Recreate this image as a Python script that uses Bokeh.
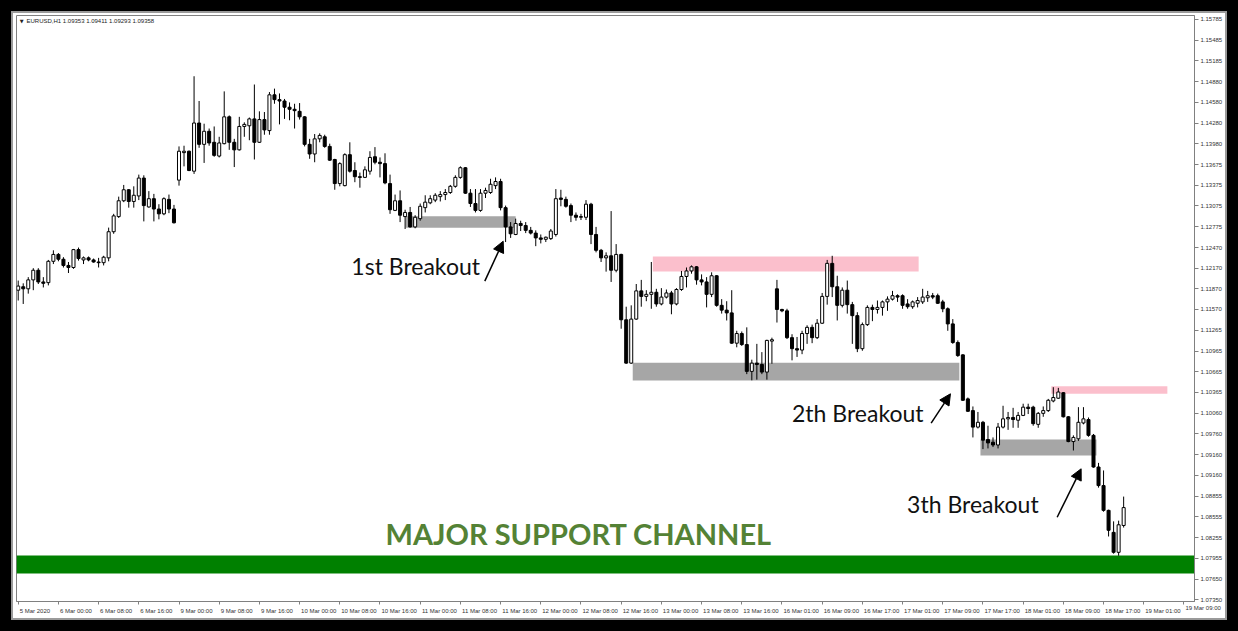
from bokeh.plotting import figure
from bokeh.models import FixedTicker, Label, Arrow, NormalHead, BoxAnnotation, ColumnDataSource, Range1d
from bokeh.embed import file_html
from bokeh.resources import INLINE

# ---------------- data (EURUSD H1) ----------------
opens = [1.1185, 1.1190, 1.1187, 1.1200, 1.1214, 1.1197, 1.1196, 1.1227, 1.1237, 1.1230,
         1.1221, 1.1218, 1.1244, 1.1229, 1.1232, 1.1229, 1.1226, 1.1225, 1.1232, 1.1270,
         1.1292, 1.1315, 1.1331, 1.1314, 1.1322, 1.1348, 1.1306, 1.1318, 1.1303, 1.1296,
         1.1317, 1.1303, 1.1345, 1.1385, 1.1387, 1.1358, 1.1428, 1.1397, 1.1416, 1.1400,
         1.1380, 1.1398, 1.1437, 1.1400, 1.1389, 1.1423, 1.1424, 1.1434, 1.1400, 1.1433,
         1.1417, 1.1469, 1.1462, 1.1460, 1.1451, 1.1448, 1.1445, 1.1437, 1.1397, 1.1383,
         1.1405, 1.1408, 1.1394, 1.1375, 1.1340, 1.1337, 1.1382, 1.1359, 1.1350, 1.1349,
         1.1358, 1.1379, 1.1371, 1.1369, 1.1340, 1.1301, 1.1315, 1.1292, 1.1298, 1.1277,
         1.1289, 1.1305, 1.1312, 1.1316, 1.1321, 1.1324, 1.1327, 1.1336, 1.1349, 1.1363,
         1.1326, 1.1311, 1.1301, 1.1326, 1.1327, 1.1337, 1.1343, 1.1305, 1.1277, 1.1266,
         1.1282, 1.1279, 1.1272, 1.1268, 1.1261, 1.1259, 1.1260, 1.1266, 1.1319, 1.1317,
         1.1308, 1.1294, 1.1291, 1.1291, 1.1310, 1.1266, 1.1243, 1.1232, 1.1235, 1.1214,
         1.1237, 1.1142, 1.1079, 1.1143, 1.1184, 1.1176, 1.1179, 1.1182, 1.1165, 1.1175,
         1.1181, 1.1165, 1.1186, 1.1205, 1.1213, 1.1219, 1.1200, 1.1197, 1.1179, 1.1206,
         1.1163, 1.1156, 1.1152, 1.1108, 1.1122, 1.1106, 1.1067, 1.1079, 1.1077, 1.1066,
         1.1111, 1.1187, 1.1157, 1.1155, 1.1116, 1.1100, 1.1098, 1.1122, 1.1131, 1.1116,
         1.1137, 1.1176, 1.1224, 1.1190, 1.1163, 1.1185, 1.1164, 1.1148, 1.1100, 1.1135,
         1.1160, 1.1157, 1.1160, 1.1168, 1.1172, 1.1177, 1.1177, 1.1165, 1.1161, 1.1166,
         1.1168, 1.1174, 1.1177, 1.1177, 1.1168, 1.1158, 1.1136, 1.1109, 1.1091, 1.1027,
         1.1010, 1.0986, 1.0993, 1.0968, 1.0964, 1.0960, 1.0986, 1.0998, 1.1000, 1.0996,
         1.1003, 1.1015, 1.1015, 1.0990, 1.1006, 1.1010, 1.1024, 1.1028, 1.1036, 1.1001,
         1.0965, 1.0969, 1.0992, 1.0997, 1.0974, 1.0928, 1.0901, 1.0865, 1.0833, 1.0804,
         1.0843]
highs = [1.1199, 1.1195, 1.1204, 1.1217, 1.1217, 1.1204, 1.1229, 1.1243, 1.1239, 1.1233,
         1.1226, 1.1245, 1.1247, 1.1234, 1.1234, 1.1231, 1.1232, 1.1235, 1.1276, 1.1296,
         1.1321, 1.1338, 1.1332, 1.1336, 1.1353, 1.1352, 1.1329, 1.1325, 1.1310, 1.1320,
         1.1324, 1.1309, 1.1394, 1.1395, 1.1388, 1.1496, 1.1460, 1.1427, 1.1420, 1.1423,
         1.1408, 1.1474, 1.1439, 1.1405, 1.1437, 1.1429, 1.1436, 1.1484, 1.1445, 1.1444,
         1.1473, 1.1478, 1.1471, 1.1463, 1.1458, 1.1456, 1.1457, 1.1438, 1.1405, 1.1412,
         1.1413, 1.1411, 1.1398, 1.1376, 1.1371, 1.1384, 1.1400, 1.1371, 1.1356, 1.1365,
         1.1387, 1.1393, 1.1378, 1.1384, 1.1353, 1.1324, 1.1330, 1.1302, 1.1306, 1.1294,
         1.1311, 1.1323, 1.1323, 1.1326, 1.1329, 1.1332, 1.1338, 1.1352, 1.1365, 1.1364,
         1.1332, 1.1332, 1.1332, 1.1334, 1.1347, 1.1349, 1.1347, 1.1308, 1.1284, 1.1289,
         1.1286, 1.1284, 1.1277, 1.1272, 1.1266, 1.1263, 1.1274, 1.1332, 1.1331, 1.1321,
         1.1311, 1.1298, 1.1296, 1.1316, 1.1312, 1.1277, 1.1245, 1.1240, 1.1300, 1.1252,
         1.1238, 1.1161, 1.1163, 1.1194, 1.1200, 1.1185, 1.1226, 1.1187, 1.1188, 1.1186,
         1.1184, 1.1188, 1.1213, 1.1218, 1.1221, 1.1220, 1.1208, 1.1204, 1.1211, 1.1207,
         1.1172, 1.1169, 1.1185, 1.1126, 1.1125, 1.1131, 1.1084, 1.1107, 1.1095, 1.1113,
         1.1116, 1.1200, 1.1158, 1.1158, 1.1121, 1.1117, 1.1126, 1.1134, 1.1135, 1.1143,
         1.1181, 1.1229, 1.1235, 1.1206, 1.1189, 1.1199, 1.1168, 1.1153, 1.1138, 1.1163,
         1.1164, 1.1170, 1.1170, 1.1176, 1.1184, 1.1179, 1.1179, 1.1172, 1.1170, 1.1175,
         1.1187, 1.1184, 1.1181, 1.1180, 1.1171, 1.1160, 1.1143, 1.1112, 1.1092, 1.1029,
         1.1016, 1.1008, 1.0995, 1.0988, 1.0971, 1.0992, 1.1017, 1.1008, 1.1014, 1.1008,
         1.1020, 1.1020, 1.1017, 1.1008, 1.1016, 1.1027, 1.1044, 1.1043, 1.1037, 1.1002,
         1.0974, 1.1015, 1.1015, 1.1000, 1.0976, 1.0934, 1.0923, 1.0866, 1.0849, 1.0850,
         1.0885]
lows = [1.1170, 1.1165, 1.1180, 1.1185, 1.1194, 1.1189, 1.1192, 1.1223, 1.1227, 1.1218,
        1.1210, 1.1216, 1.1228, 1.1223, 1.1227, 1.1225, 1.1218, 1.1221, 1.1227, 1.1267,
        1.1290, 1.1313, 1.1305, 1.1305, 1.1316, 1.1285, 1.1305, 1.1285, 1.1288, 1.1294,
        1.1297, 1.1282, 1.1337, 1.1365, 1.1358, 1.1354, 1.1392, 1.1370, 1.1395, 1.1379,
        1.1378, 1.1397, 1.1389, 1.1364, 1.1388, 1.1408, 1.1403, 1.1375, 1.1399, 1.1411,
        1.1411, 1.1456, 1.1426, 1.1434, 1.1432, 1.1420, 1.1433, 1.1394, 1.1376, 1.1371,
        1.1400, 1.1392, 1.1373, 1.1331, 1.1336, 1.1336, 1.1356, 1.1342, 1.1334, 1.1348,
        1.1353, 1.1368, 1.1349, 1.1339, 1.1296, 1.1300, 1.1284, 1.1274, 1.1276, 1.1275,
        1.1286, 1.1298, 1.1310, 1.1313, 1.1314, 1.1316, 1.1325, 1.1334, 1.1347, 1.1325,
        1.1306, 1.1298, 1.1299, 1.1319, 1.1325, 1.1332, 1.1301, 1.1255, 1.1261, 1.1265,
        1.1271, 1.1268, 1.1266, 1.1249, 1.1253, 1.1255, 1.1258, 1.1263, 1.1307, 1.1305,
        1.1284, 1.1286, 1.1287, 1.1287, 1.1252, 1.1240, 1.1226, 1.1212, 1.1197, 1.1211,
        1.1129, 1.1078, 1.1078, 1.1142, 1.1161, 1.1169, 1.1158, 1.1161, 1.1163, 1.1173,
        1.1150, 1.1163, 1.1184, 1.1189, 1.1209, 1.1193, 1.1192, 1.1160, 1.1175, 1.1161,
        1.1151, 1.1141, 1.1107, 1.1102, 1.1104, 1.1063, 1.1054, 1.1055, 1.1063, 1.1055,
        1.1078, 1.1138, 1.1153, 1.1114, 1.1083, 1.1088, 1.1092, 1.1107, 1.1108, 1.1114,
        1.1136, 1.1164, 1.1175, 1.1141, 1.1160, 1.1151, 1.1107, 1.1095, 1.1097, 1.1133,
        1.1140, 1.1151, 1.1148, 1.1155, 1.1170, 1.1168, 1.1158, 1.1158, 1.1158, 1.1160,
        1.1165, 1.1168, 1.1172, 1.1165, 1.1153, 1.1126, 1.1107, 1.1088, 1.1024, 1.1008,
        1.0971, 1.0984, 1.0954, 1.0955, 1.0957, 1.0955, 1.0984, 1.0982, 1.0985, 1.0985,
        1.1002, 1.1005, 1.0988, 1.0985, 1.1001, 1.1008, 1.1022, 1.1027, 1.1000, 1.0964,
        1.0952, 1.0966, 1.0990, 1.0972, 1.0927, 1.0898, 1.0863, 1.0827, 1.0802, 1.0799,
        1.0840]
closes = [1.1191, 1.1187, 1.1200, 1.1214, 1.1197, 1.1195, 1.1227, 1.1237, 1.1230, 1.1221,
          1.1218, 1.1244, 1.1231, 1.1232, 1.1229, 1.1226, 1.1225, 1.1233, 1.1270, 1.1293,
          1.1315, 1.1331, 1.1314, 1.1323, 1.1348, 1.1308, 1.1318, 1.1303, 1.1296, 1.1318,
          1.1303, 1.1283, 1.1387, 1.1387, 1.1359, 1.1428, 1.1397, 1.1416, 1.1399, 1.1381,
          1.1399, 1.1437, 1.1400, 1.1389, 1.1423, 1.1426, 1.1434, 1.1400, 1.1433, 1.1418,
          1.1469, 1.1462, 1.1460, 1.1451, 1.1448, 1.1446, 1.1437, 1.1397, 1.1383, 1.1405,
          1.1410, 1.1394, 1.1374, 1.1340, 1.1369, 1.1382, 1.1358, 1.1350, 1.1349, 1.1360,
          1.1378, 1.1371, 1.1369, 1.1341, 1.1302, 1.1315, 1.1294, 1.1298, 1.1277, 1.1291,
          1.1307, 1.1313, 1.1318, 1.1323, 1.1324, 1.1327, 1.1336, 1.1349, 1.1363, 1.1326,
          1.1311, 1.1301, 1.1326, 1.1330, 1.1339, 1.1343, 1.1305, 1.1277, 1.1267, 1.1282,
          1.1279, 1.1272, 1.1268, 1.1261, 1.1259, 1.1262, 1.1271, 1.1318, 1.1317, 1.1307,
          1.1294, 1.1291, 1.1292, 1.1310, 1.1266, 1.1243, 1.1232, 1.1235, 1.1214, 1.1237,
          1.1142, 1.1079, 1.1143, 1.1184, 1.1176, 1.1179, 1.1182, 1.1165, 1.1175, 1.1181,
          1.1165, 1.1186, 1.1205, 1.1213, 1.1219, 1.1200, 1.1197, 1.1179, 1.1206, 1.1163,
          1.1156, 1.1152, 1.1108, 1.1122, 1.1106, 1.1067, 1.1079, 1.1077, 1.1066, 1.1112,
          1.1113, 1.1157, 1.1155, 1.1116, 1.1100, 1.1098, 1.1122, 1.1131, 1.1116, 1.1137,
          1.1176, 1.1224, 1.1190, 1.1163, 1.1185, 1.1164, 1.1148, 1.1100, 1.1135, 1.1160,
          1.1157, 1.1160, 1.1168, 1.1172, 1.1177, 1.1175, 1.1163, 1.1161, 1.1168, 1.1170,
          1.1175, 1.1177, 1.1175, 1.1166, 1.1158, 1.1136, 1.1109, 1.1090, 1.1025, 1.1009,
          1.0986, 1.0993, 1.0967, 1.0963, 1.0960, 1.0986, 1.0998, 1.1000, 1.0997, 1.1003,
          1.1015, 1.1013, 1.0991, 1.1006, 1.1010, 1.1025, 1.1029, 1.1037, 1.1001, 1.0965,
          1.0971, 1.0993, 1.0998, 1.0974, 1.0928, 1.0901, 1.0865, 1.0836, 1.0804, 1.0844,
          1.0869]

y_tick_values = [1.15785, 1.15485, 1.15185, 1.14880, 1.14580, 1.14280, 1.13980, 1.13675,
                 1.13375, 1.13075, 1.12775, 1.12470, 1.12170, 1.11870, 1.11570, 1.11265,
                 1.10965, 1.10665, 1.10365, 1.10060, 1.09760, 1.09460, 1.09160, 1.08855,
                 1.08555, 1.08255, 1.07955, 1.07650, 1.07350]
y_tick_labels = ["1.15785", "1.15485", "1.15185", "1.14880", "1.14580", "1.14280", "1.13980",
                 "1.13675", "1.13375", "1.13075", "1.12775", "1.12470", "1.12170", "1.11870",
                 "1.11570", "1.11265", "1.10965", "1.10665", "1.10365", "1.10060", "1.09760",
                 "1.09160", "1.09160", "1.08855", "1.08555", "1.08255", "1.07955", "1.07650",
                 "1.07350"]
x_tick_labels = ["5 Mar 2020", "6 Mar 00:00", "6 Mar 08:00", "6 Mar 16:00", "9 Mar 00:00",
                 "9 Mar 08:00", "9 Mar 16:00", "10 Mar 00:00", "10 Mar 08:00", "10 Mar 16:00",
                 "11 Mar 00:00", "11 Mar 08:00", "11 Mar 16:00", "12 Mar 00:00", "12 Mar 08:00",
                 "12 Mar 16:00", "13 Mar 00:00", "13 Mar 08:00", "13 Mar 16:00", "16 Mar 01:00",
                 "16 Mar 09:00", "16 Mar 17:00", "17 Mar 01:00", "17 Mar 09:00", "17 Mar 17:00",
                 "18 Mar 01:00", "18 Mar 09:00", "18 Mar 17:00", "19 Mar 01:00", "19 Mar 09:00"]
bars_per_label = 8

# support / resistance zones (bar index from-to, price low-high)
zone_start = [77.1, 126.3, 122.3, 205.6, 191.5]
zone_end = [99.0, 179.2, 187.3, 228.7, 214.6]
zone_low = [1.12757, 1.12122, 1.10538, 1.10344, 1.09447]
zone_high = [1.12926, 1.12340, 1.10795, 1.10455, 1.09680]
zone_kind = ["support", "resistance", "support", "resistance", "support"]
channel_low, channel_high = 1.07732, 1.07994

breakout_texts = ["1st Breakout", "2th Breakout", "3th Breakout"]
breakout_text_bar = [66.3, 154.0, 176.9]
breakout_text_price = [1.12196, 1.10063, 1.08745]
arrow_from_bar = [92.86, 181.69, 206.77]
arrow_from_price = [1.11981, 1.09917, 1.08550]
arrow_to_bar = [96.52, 185.53, 211.54]
arrow_to_price = [1.12562, 1.10344, 1.09254]

# ---------------- figure ----------------
BAR_PX = 5.025
X_START, X_END = -0.34, 234.1
Y_START, Y_END = 1.07325, 1.15843
p = figure(width=1238, height=631,
           x_range=Range1d(X_START, X_END), y_range=Range1d(Y_START, Y_END),
           output_backend="svg", toolbar_location=None,
           x_axis_location="below", y_axis_location="right",
           min_border_left=16, min_border_top=15, min_border_right=44, min_border_bottom=30,
           background_fill_color="white", border_fill_color=None,
           outline_line_color="#808080", outline_line_width=1)
p.grid.visible = False
# black screenshot frame + thin grey inner edge, drawn by the host element behind the canvas
p.styles = {"background-color": "white",
            "box-shadow": "inset 0 0 0 11px #000000, inset 0 0 0 13px #9a9a9a"}

zone_colors = {"support": "#a6a6a6", "resistance": "#fbbfcc"}
for s, e, lo, hi, k in zip(zone_start, zone_end, zone_low, zone_high, zone_kind):
    p.add_layout(BoxAnnotation(left=s, right=e, bottom=lo, top=hi,
                               fill_color=zone_colors[k], fill_alpha=1.0,
                               line_color=None, level="underlay"))
p.add_layout(BoxAnnotation(bottom=channel_low, top=channel_high, fill_color="#008000",
                           fill_alpha=1.0, line_color=None, level="underlay"))

idx = list(range(len(closes)))
src_all = ColumnDataSource(dict(x=idx, h=highs, l=lows))
p.segment(x0="x", y0="l", x1="x", y1="h", source=src_all, line_color="black", line_width=1)

up = [i for i in idx if closes[i] >= opens[i]]
dn = [i for i in idx if closes[i] < opens[i]]
src_up = ColumnDataSource(dict(x=up, top=[closes[i] for i in up], bot=[opens[i] for i in up]))
src_dn = ColumnDataSource(dict(x=dn, top=[opens[i] for i in dn], bot=[closes[i] for i in dn]))
p.vbar(x="x", width=0.6, top="top", bottom="bot", source=src_up,
       fill_color="white", line_color="black", line_width=1)
p.vbar(x="x", width=0.6, top="top", bottom="bot", source=src_dn,
       fill_color="black", line_color="black", line_width=1)

# annotations
for t, xb, yp in zip(breakout_texts, breakout_text_bar, breakout_text_price):
    p.add_layout(Label(x=xb, y=yp, text=t, text_font="Lato", text_font_size="23px",
                       text_color="#111111", text_align="left", text_baseline="alphabetic"))
for xs, ys, xe, ye in zip(arrow_from_bar, arrow_from_price, arrow_to_bar, arrow_to_price):
    p.add_layout(Arrow(x_start=xs, y_start=ys, x_end=xe, y_end=ye, line_color="black",
                       line_width=1.5,
                       end=NormalHead(size=11, fill_color="black", line_color="black")))
p.add_layout(Label(x=73.1, y=1.08308, text="MAJOR SUPPORT CHANNEL", text_font="Lato",
                   text_font_size="29px", text_font_style="bold", text_color="#548235",
                   text_align="left", text_baseline="alphabetic"))
p.add_layout(Label(x=0.3, y=1.15770, text="\u25bc", text_font="DejaVu Sans",
                   text_font_size="5px", text_color="#222222", text_baseline="middle"))
p.add_layout(Label(x=1.65, y=1.15770, text="EURUSD,H1  1.09353 1.09411 1.09293 1.09358",
                   text_font="Liberation Sans", text_font_size="6px", text_color="#222222",
                   text_baseline="middle"))

# right price axis
yax = p.yaxis[0]
yax.ticker = FixedTicker(ticks=y_tick_values)
yax.major_label_overrides = dict(zip(y_tick_values, y_tick_labels))
yax.major_tick_out = 4
yax.major_tick_in = 0
yax.minor_tick_out = 0
yax.minor_tick_in = 0
yax.axis_line_color = "#808080"
yax.major_tick_line_color = "#808080"
yax.major_label_text_font = "Liberation Sans"
yax.major_label_text_font_size = "6px"
yax.major_label_text_color = "#333333"
yax.major_label_standoff = 2

# bottom time axis: labels start at their tick like the platform does
char_w = {" ": 0.278, ":": 0.278, "M": 0.833, "a": 0.556, "r": 0.333}
font_px = 6.0
tick_pos = [k * bars_per_label for k in range(len(x_tick_labels))]
centers, in_labels = [], []
for pos, lab in zip(tick_pos, x_tick_labels):
    w = sum(char_w.get(c, 0.556) for c in lab) * font_px
    c = round(pos + (w / 2 + 1.5) / BAR_PX, 4)
    if c <= X_END:
        centers.append(c)
        in_labels.append(lab)
    else:
        # label whose text runs past the chart edge (into the price-scale corner);
        # placed in the side panel so it is not clipped to the chart area
        p.add_layout(Label(x=pos + 1.5 / BAR_PX, y=Y_START - 6.5 * (Y_END - Y_START) / 586,
                           text=lab, text_font="Liberation Sans", text_font_size="6px",
                           text_color="#333333", text_align="left", text_baseline="middle"),
                     "below")
xax = p.xaxis[0]
xax.ticker = FixedTicker(ticks=centers, minor_ticks=tick_pos)
xax.major_label_overrides = dict(zip(centers, in_labels))
xax.major_tick_out = 0
xax.major_tick_in = 0
xax.minor_tick_out = 3
xax.minor_tick_in = 0
xax.axis_line_color = "#808080"
xax.minor_tick_line_color = "#808080"
xax.major_label_text_font = "Liberation Sans"
xax.major_label_text_font_size = "6px"
xax.major_label_text_color = "#333333"
xax.major_label_standoff = 3

open("out.html", "w").write(file_html(p, INLINE))
